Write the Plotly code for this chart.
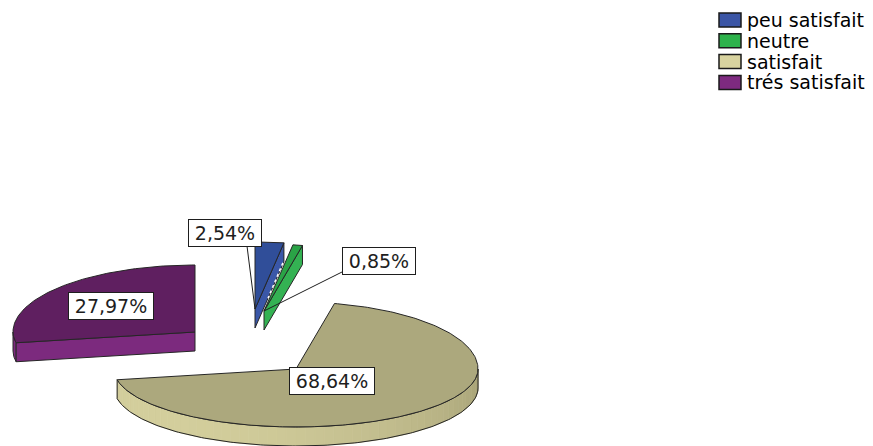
import math
import numpy as np
import plotly.graph_objects as go

# Satisfaction survey: share of respondents per answer (%)
categories = ["peu satisfait", "neutre", "satisfait", "trés satisfait"]
percents = [2.54, 0.85, 68.64, 27.97]
value_labels = ["2,54%", "0,85%", "68,64%", "27,97%"]

# ---------------- styling ----------------
W, H = 873, 446
FONT = "DejaVu Sans"
legend_colors = ["#3b55a5", "#2db24b", "#d8d39f", "#7e2a80"]
top_colors = ["#304e99", "#2aa346", "#aca87d", "#5f1f60"]
side_colors = ["#3a57a8", "#34b253", "#cbc692", "#7c2a7e"]
edge = "#262626"

# pie geometry in pixel units (tilted disc, back half a bit taller)
RX, RY_BACK, RY_FRONT, DEPTH = 182, 67, 58, 19
BASE = (255, 345)
EXPLODE = [(0, -36), (9, -34), (41, 24), (-60, -13)]
# inside labels: fraction of the radius along the slice bisector
LABEL_RADIUS = [None, None, 0.28, 0.6]
# outside labels: offset of the label box from the slice tip, and leader start
OUTSIDE_LABEL = {0: (-30, -76), 1: (115, -50)}
LEADER_FROM = {0: (22, 13), 1: (-35, 10)}
DRAW_ORDER = [3, 0, 1, 2]
PAD = "\u2009"  # thin space inside the label boxes


def rim(cx, cy, deg, dy=0.0):
    t = math.radians(deg)
    c = math.cos(t)
    ry = RY_BACK if c > 0 else RY_FRONT
    return cx + RX * math.sin(t), cy - ry * c + dy


def arc(cx, cy, a, b, dy=0.0, step=1.0):
    n = max(2, int(abs(b - a) / step) + 1)
    return [rim(cx, cy, d, dy) for d in np.linspace(a, b, n)]


fig = go.Figure()


def poly(pts, fill, line=edge, width=1.0, dash="solid", close=True):
    xs = [p[0] for p in pts]
    ys = [p[1] for p in pts]
    if close:
        xs.append(pts[0][0])
        ys.append(pts[0][1])
    fig.add_trace(go.Scatter(
        x=xs, y=ys, mode="lines",
        fill="toself" if fill else None, fillcolor=fill,
        line=dict(color=line, width=width, dash=dash),
        hoverinfo="skip", showlegend=False,
    ))


def side_shade(deg):
    # lighter toward the front-left of the rim, darker toward the right
    t = (deg - 90.0) / 180.0
    lo = np.array([166, 161, 118])
    hi = np.array([212, 207, 157])
    k = math.sin(min(max(t, 0.0), 1.0) * math.pi * 0.62)
    r, g, b = (lo + (hi - lo) * k).astype(int)
    return f"rgb({r},{g},{b})"


bounds = np.concatenate([[0.0], np.cumsum(percents)]) * 3.6
centers = [(BASE[0] + ex, BASE[1] + ey) for ex, ey in EXPLODE]

for i in DRAW_ORDER:
    a, b = bounds[i], bounds[i + 1]
    cx, cy = centers[i]

    # outer rim (only the front half of the disc faces the viewer)
    s0, s1 = max(a, 90.0), min(b, 270.0)
    if s1 > s0:
        if i == 2:
            grid = np.arange(s0, s1, 3.0).tolist() + [s1]
            for d0, d1 in zip(grid[:-1], grid[1:]):
                c = side_shade((d0 + d1) / 2)
                poly(arc(cx, cy, d0, d1) + arc(cx, cy, d1, d0, DEPTH), c, line=c, width=0.8)
            poly(arc(cx, cy, s0, s1) + arc(cx, cy, s1, s0, DEPTH), None)
        else:
            poly(arc(cx, cy, s0, s1) + arc(cx, cy, s1, s0, DEPTH), side_colors[i])

    # radial cut faces that turn toward the viewer
    for ang, visible in ((a, math.sin(math.radians(a)) < -1e-6),
                         (b, math.sin(math.radians(b)) > 1e-6)):
        if visible:
            px, py = rim(cx, cy, ang)
            poly([(cx, cy), (px, py), (px, py + DEPTH), (cx, cy + DEPTH)], side_colors[i])
            if i == 0:
                # light hatch where the thin neighbouring slice was cut away
                qx, qy = px + 0.55 * (cx - px), py + DEPTH + 0.55 * (cy - py)
                poly([(px - 1, py + DEPTH + 1), (qx, qy)], None, line="white",
                     width=1.5, dash="dot", close=False)

    # top face
    poly([(cx, cy)] + arc(cx, cy, a, b), top_colors[i])

# value labels
box = dict(showarrow=False, xref="x", yref="y", bgcolor="white",
           bordercolor="#1e1e1e", borderwidth=1, borderpad=2,
           font=dict(family=FONT, size=19, color="#1e1e1e"))
for i in range(len(percents)):
    a, b = bounds[i], bounds[i + 1]
    cx, cy = centers[i]
    if LABEL_RADIUS[i] is not None:
        mid = (a + b) / 2
        mx, my = rim(0, 0, mid)
        lx, ly = cx + LABEL_RADIUS[i] * mx, cy + LABEL_RADIUS[i] * my
    else:
        ox, oy = OUTSIDE_LABEL[i]
        lx, ly = cx + ox, cy + oy
        fx, fy = LEADER_FROM[i]
        fig.add_shape(type="line", xref="x", yref="y",
                      x0=lx + fx, y0=ly + fy, x1=cx, y1=cy,
                      line=dict(color="#1e1e1e", width=1))
    fig.add_annotation(x=lx, y=ly, text=PAD + value_labels[i] + PAD, **box)

# legend
LEG_X, LEG_Y, LEG_STEP = 719, 20, 20.8
for k, name in enumerate(categories):
    yc = LEG_Y + k * LEG_STEP
    fig.add_shape(type="rect", xref="x", yref="y",
                  x0=LEG_X, x1=LEG_X + 22, y0=yc - 7, y1=yc + 7,
                  fillcolor=legend_colors[k], line=dict(color="#1a1a1a", width=1.5))
    fig.add_annotation(x=LEG_X + 26, y=yc, text=name, showarrow=False,
                       xref="x", yref="y", xanchor="left", yanchor="middle",
                       font=dict(family=FONT, size=19, color="black"))

fig.update_layout(
    width=W, height=H, margin=dict(l=0, r=0, t=0, b=0),
    paper_bgcolor="white", plot_bgcolor="white", showlegend=False,
    xaxis=dict(range=[0, W], visible=False, fixedrange=True),
    yaxis=dict(range=[H, 0], visible=False, fixedrange=True),
)

fig.write_html("out.html")
